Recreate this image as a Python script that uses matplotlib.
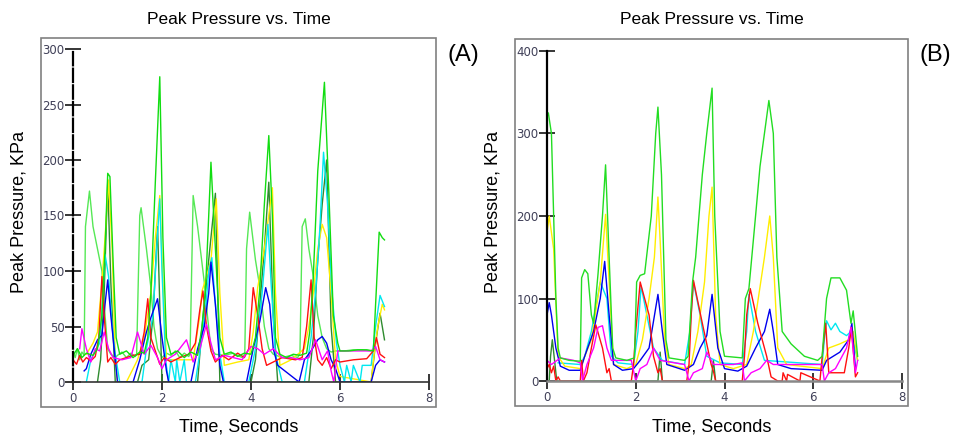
import matplotlib.pyplot as plt
from matplotlib.patches import Rectangle

# ---- panel A data (time s, peak pressure KPa) ----
a_green1_t = [0.0, 0.05, 0.1, 0.15, 0.2, 0.25, 0.28, 0.37, 0.45, 0.55, 0.65, 0.72, 0.78, 0.85, 0.95, 1.0,
              1.1, 1.2, 1.3, 1.4, 1.43, 1.5, 1.53, 1.65, 1.75, 1.82, 1.9, 2.0, 2.1, 2.2, 2.3, 2.4, 2.5, 2.6,
              2.63, 2.7, 2.8, 2.95, 3.02, 3.1, 3.2, 3.4, 3.6, 3.8, 3.86, 3.9, 3.97, 4.1, 4.2, 4.3, 4.4, 4.5,
              4.7, 4.9, 5.05, 5.1, 5.15, 5.22, 5.3, 5.4, 5.5, 5.6, 5.7, 5.8, 5.9, 6.1, 6.3, 6.5, 6.7]
a_green1_v = [28, 22, 30, 20, 27, 24, 140, 172, 140, 120, 100, 60, 30, 25, 22, 24,
              27, 22, 26, 23, 25, 150, 157, 120, 85, 50, 30, 22, 26, 24, 28, 22, 26, 23,
              25, 168, 140, 90, 60, 30, 25, 24, 26, 22, 25, 120, 153, 110, 85, 50, 30, 25,
              22, 24, 22, 26, 140, 147, 120, 95, 60, 40, 30, 27, 28, 28, 29, 29, 28]
a_green2_t = [0.0, 0.1, 0.2, 0.3, 0.45, 0.55, 0.65, 0.72, 0.78, 0.83, 0.9, 0.97, 1.05, 1.2, 1.35, 1.5,
              1.6, 1.68, 1.75, 1.85, 1.95, 2.02, 2.1, 2.2, 2.35, 2.5, 2.65, 2.8, 2.9, 2.98, 3.05, 3.1,
              3.2, 3.3, 3.4, 3.55, 3.7, 3.85, 4.0, 4.1, 4.2, 4.3, 4.4, 4.48, 4.55, 4.65, 4.8, 4.95,
              5.1, 5.25, 5.32, 5.4, 5.5, 5.65, 5.75, 5.85, 5.95, 6.0, 6.2, 6.4, 6.6, 6.75, 6.8, 6.88,
              6.95, 7.0]
a_green2_v = [24, 30, 22, 26, 24, 30, 60, 120, 188, 185, 110, 40, 25, 28, 22, 27,
              26, 40, 80, 180, 275, 130, 40, 25, 28, 22, 27, 24, 50, 85, 150, 198,
              120, 40, 25, 27, 23, 26, 25, 40, 85, 160, 222, 150, 40, 25, 22, 25,
              24, 26, 45, 95, 190, 270, 170, 60, 35, 28, 28, 29, 29, 28, 70, 135,
              130, 128]
a_dkgreen_t = [0.55, 0.62, 0.7, 0.78, 0.85, 0.95, 1.45, 1.55, 1.7, 1.8, 1.9, 2.0, 2.8, 2.9, 3.0, 3.1,
               3.2, 3.3, 4.0, 4.1, 4.2, 4.3, 4.4, 4.5, 4.6, 5.3, 5.4, 5.5, 5.6, 5.7, 5.8, 5.9,
               6.7, 6.8, 6.9, 7.0]
a_dkgreen_v = [0, 20, 80, 180, 90, 0, 0, 15, 20, 60, 140, 0, 0, 50, 90, 130,
               170, 0, 0, 20, 70, 120, 180, 60, 0, 0, 40, 110, 160, 200, 50, 0,
               0, 35, 62, 38]
a_yellow_t = [0.3, 0.45, 0.55, 0.65, 0.72, 0.8, 0.88, 0.95, 1.0, 1.2, 1.45, 1.6, 1.75, 1.85, 1.95, 2.02,
              2.1, 2.4, 2.7, 2.85, 2.9, 3.0, 3.1, 3.22, 3.3, 3.4, 3.7, 3.95, 4.05, 4.15, 4.3, 4.48,
              4.55, 4.65, 4.9, 5.2, 5.3, 5.4, 5.5, 5.6, 5.7, 5.8, 5.9, 6.0, 6.7, 6.78, 6.85, 6.95,
              7.0]
a_yellow_v = [25, 35, 45, 90, 130, 182, 120, 20, 0, 0, 20, 40, 80, 130, 168, 90,
              20, 20, 20, 60, 82, 95, 110, 165, 80, 15, 18, 20, 45, 85, 120, 175,
              80, 15, 20, 30, 50, 80, 120, 142, 130, 80, 20, 5, 0, 30, 50, 70,
              65]
a_cyan_t = [0.3, 0.4, 0.5, 0.6, 0.66, 0.72, 0.8, 0.88, 0.95, 1.05, 1.55, 1.65, 1.8, 1.88, 1.95, 2.0,
            2.08, 2.15, 2.2, 2.3, 2.33, 2.4, 2.5, 2.55, 2.75, 2.9, 3.0, 3.05, 3.12, 3.2, 3.3, 3.4,
            3.95, 4.1, 4.25, 4.38, 4.45, 4.55, 4.7, 5.2, 5.35, 5.45, 5.55, 5.63, 5.72, 5.82, 5.92,
            6.0, 6.1, 6.15, 6.25, 6.3, 6.45, 6.5, 6.7, 6.8, 6.9, 7.0]
a_cyan_v = [0, 20, 28, 35, 70, 115, 95, 50, 25, 0, 0, 30, 60, 120, 165, 100,
            20, 0, 20, 0, 20, 0, 20, 0, 0, 40, 75, 100, 112, 70, 25, 0,
            0, 30, 80, 142, 90, 25, 0, 0, 40, 80, 140, 207, 160, 80, 35,
            15, 0, 15, 0, 15, 0, 15, 15, 50, 78, 68]
a_blue_t = [0.25, 0.3, 0.4, 0.55, 0.65, 0.72, 0.78, 0.85, 0.95, 1.0, 1.35, 1.5, 1.65, 1.75, 1.9,
            2.0, 2.1, 2.15, 2.65, 2.8, 2.95, 3.05, 3.1, 3.2, 3.3, 3.38, 3.9, 4.05, 4.2, 4.33, 4.42,
            4.5, 4.6, 5.08, 5.2, 5.35, 5.5, 5.6, 5.7, 5.8, 5.9, 6.0, 6.7, 6.8, 6.9, 7.0]
a_blue_v = [10, 12, 25, 38, 42, 70, 92, 60, 20, 0, 0, 20, 45, 58, 75,
            40, 10, 0, 0, 30, 50, 80, 108, 70, 15, 0, 0, 30, 55, 85, 70,
            30, 15, 0, 20, 28, 38, 41, 35, 20, 12, 0, 0, 15, 20, 18]
a_red_t = [0.0, 0.08, 0.15, 0.22, 0.3, 0.4, 0.5, 0.58, 0.65, 0.7, 0.78, 0.85, 0.95, 1.05, 1.2, 1.35,
           1.5, 1.6, 1.68, 1.75, 1.85, 1.95, 2.05, 2.2, 2.4, 2.6, 2.75, 2.85, 2.92, 3.0, 3.1, 3.2,
           3.35, 3.5, 3.7, 3.85, 3.95, 4.05, 4.15, 4.25, 4.35, 4.5, 4.7, 5.0, 5.15, 5.25, 5.35, 5.42,
           5.5, 5.6, 5.7, 5.8, 5.9, 6.0, 6.3, 6.6, 6.75, 6.82, 6.9, 7.0]
a_red_v = [20, 16, 24, 18, 22, 19, 23, 40, 95, 60, 18, 22, 16, 20, 22, 24,
           25, 45, 75, 40, 28, 16, 22, 18, 22, 25, 35, 65, 82, 50, 28, 18,
           24, 20, 26, 22, 30, 85, 60, 30, 15, 18, 22, 20, 22, 50, 92, 40,
           20, 15, 22, 12, 20, 18, 20, 21, 28, 40, 25, 22]
a_mag_t = [0.15, 0.2, 0.3, 0.4, 0.5, 0.6, 0.7, 0.8, 0.9, 1.1, 1.3, 1.45, 1.6, 1.75, 1.9, 2.0,
           2.1, 2.3, 2.55, 2.7, 2.85, 3.0, 3.1, 3.2, 3.4, 3.6, 3.8, 4.0, 4.15, 4.3, 4.5, 4.7,
           4.9, 5.1, 5.3, 5.45, 5.6, 5.72, 5.8, 5.86, 5.95, 6.2, 6.5, 6.7, 6.8, 6.9, 7.0]
a_mag_v = [30, 48, 30, 18, 30, 28, 45, 30, 22, 20, 22, 45, 25, 33, 22, 12,
           20, 25, 38, 18, 30, 52, 35, 20, 24, 22, 20, 32, 30, 25, 30, 22,
           22, 20, 22, 38, 20, 28, 10, 0, 28, 28, 28, 28, 32, 20, 18]

# ---- panel B data ----
b_green_t = [0.0, 0.03, 0.1, 0.15, 0.2, 0.25, 0.3, 0.5, 0.75, 0.78, 0.85, 0.92, 1.0, 1.05, 1.15, 1.25,
             1.32, 1.4, 1.48, 1.55, 1.8, 1.97, 2.02, 2.1, 2.2, 2.35, 2.45, 2.5, 2.58, 2.68, 2.75, 3.1,
             3.18, 3.28, 3.35, 3.5, 3.6, 3.72, 3.78, 3.9, 4.0, 4.4, 4.47, 4.55, 4.7, 4.8, 5.0, 5.1,
             5.18, 5.3, 5.5, 5.8, 6.1, 6.2, 6.3, 6.4, 6.6, 6.75, 6.85, 6.9, 7.0]
b_green_v = [320, 325, 300, 200, 100, 40, 28, 25, 24, 125, 135, 130, 80, 70, 130, 200,
             262, 150, 40, 28, 25, 28, 120, 128, 130, 200, 300, 332, 250, 50, 28, 25,
             30, 120, 150, 250, 300, 355, 200, 60, 30, 28, 100, 112, 200, 260, 340, 300,
             150, 60, 45, 30, 25, 30, 100, 125, 125, 110, 70, 85, 30]
b_yellow_t = [0.0, 0.05, 0.15, 0.25, 0.4, 0.75, 0.85, 1.0, 1.2, 1.32, 1.42, 1.5, 1.8, 2.0, 2.15, 2.3,
              2.42, 2.5, 2.55, 2.65, 2.75, 3.1, 3.25, 3.4, 3.55, 3.65, 3.72, 3.8, 3.9, 4.2, 4.5, 4.65,
              4.9, 5.02, 5.1, 5.2, 5.4, 6.2, 6.35, 6.6, 6.8, 6.9, 7.0]
b_yellow_v = [180, 200, 160, 30, 18, 15, 30, 50, 120, 202, 100, 20, 15, 20, 50, 100,
              150, 223, 170, 50, 20, 15, 20, 60, 120, 200, 235, 80, 20, 15, 20, 60,
              150, 200, 150, 40, 20, 15, 40, 45, 50, 60, 25]
b_cyan_t = [0.25, 0.75, 0.85, 1.0, 1.2, 1.35, 1.45, 1.6, 1.95, 2.05, 2.12, 2.25, 2.4, 2.6, 3.1, 3.22,
            3.3, 3.45, 3.6, 3.9, 4.4, 4.5, 4.55, 4.7, 4.9, 6.2, 6.25, 6.3, 6.4, 6.5, 6.6, 6.75,
            6.85, 7.0]
b_cyan_v = [22, 20, 30, 60, 120, 100, 30, 22, 20, 60, 115, 80, 40, 25, 20, 60,
            120, 80, 30, 22, 20, 60, 105, 60, 25, 20, 50, 73, 62, 70, 60, 55,
            60, 25]
b_blue_t = [0.0, 0.05, 0.1, 0.2, 0.3, 0.5, 0.75, 0.85, 1.05, 1.2, 1.3, 1.4, 1.5, 1.7, 1.95, 2.1,
            2.3, 2.5, 2.6, 2.7, 3.1, 3.3, 3.45, 3.6, 3.72, 3.85, 4.0, 4.3, 4.5, 4.7, 4.9, 5.02,
            5.1, 5.2, 5.5, 6.2, 6.3, 6.6, 6.8, 6.87, 6.95]
b_blue_v = [80, 95, 80, 40, 18, 13, 13, 30, 60, 100, 145, 80, 20, 13, 15, 25,
            40, 105, 60, 20, 13, 20, 40, 55, 105, 40, 15, 12, 18, 40, 60, 87,
            60, 20, 15, 13, 25, 35, 50, 70, 15]
b_red_t = [0.0, 0.05, 0.1, 0.15, 0.2, 0.25, 0.3, 0.75, 0.78, 0.82, 0.9, 1.0, 1.1, 1.25, 1.35, 1.4,
           1.45, 1.9, 1.95, 2.0, 2.1, 2.3, 2.4, 2.5, 2.55, 2.6, 3.15, 3.2, 3.25, 3.3, 3.5, 3.7,
           3.75, 3.8, 4.4, 4.45, 4.5, 4.58, 4.75, 4.95, 5.05, 5.2, 5.3, 5.32, 5.4, 5.42, 5.7, 5.72,
           6.15, 6.22, 6.28, 6.35, 6.7, 6.8, 6.86, 6.95, 7.0]
b_red_v = [15, 20, 10, 18, 0, 5, 0, 0, 25, 0, 10, 40, 68, 40, 10, 15,
           0, 0, 20, 60, 120, 80, 30, 10, 15, 0, 0, 20, 80, 122, 70, 20,
           12, 0, 0, 30, 80, 112, 70, 30, 5, 0, 0, 10, 0, 8, 0, 10,
           0, 40, 70, 10, 10, 40, 65, 5, 10]
b_mag_t = [0.0, 0.1, 0.3, 0.6, 0.75, 0.8, 0.9, 1.05, 1.15, 1.25, 1.35, 1.45, 1.9, 2.0, 2.1, 2.25,
           2.4, 2.55, 3.1, 3.2, 3.3, 3.5, 3.6, 3.75, 4.2, 4.4, 4.45, 4.6, 4.8, 4.95, 5.1, 5.8,
           6.2, 6.25, 6.35, 6.5, 6.6, 6.75, 6.85, 6.95, 7.0]
b_mag_v = [25, 20, 28, 25, 22, 0, 20, 40, 65, 67, 40, 25, 25, 0, 15, 20,
           40, 25, 20, 0, 10, 15, 35, 20, 20, 22, 0, 10, 15, 25, 20, 20,
           20, 0, 10, 15, 25, 40, 65, 10, 25]
b_dkgreen_t = [0.05, 0.08, 0.12, 0.18, 0.22, 2.5, 2.55, 2.6, 3.7, 3.75, 3.8]
b_dkgreen_v = [0, 30, 50, 20, 0, 0, 35, 0, 0, 25, 0]

panels = [
    dict(tag='(A)', ymax=300, yticks=[0, 50, 100, 150, 200, 250, 300], dashed=True,
         series=[(a_green1_t, a_green1_v, '#55e855'), (a_dkgreen_t, a_dkgreen_v, '#2e8b2e'),
                 (a_yellow_t, a_yellow_v, '#ffee00'), (a_cyan_t, a_cyan_v, '#00e8f0'),
                 (a_blue_t, a_blue_v, '#0000ee'), (a_red_t, a_red_v, '#ff1010'),
                 (a_mag_t, a_mag_v, '#ff00ff'), (a_green2_t, a_green2_v, '#11dd11')],
         frame=(41, 38, 436, 407), data=(73, 49, 429, 382)),
    dict(tag='(B)', ymax=400, yticks=[0, 100, 200, 300, 400], dashed=False,
         series=[(b_dkgreen_t, b_dkgreen_v, '#2e8b2e'), (b_cyan_t, b_cyan_v, '#00e8f0'),
                 (b_yellow_t, b_yellow_v, '#ffee00'), (b_blue_t, b_blue_v, '#0000ee'),
                 (b_red_t, b_red_v, '#ff1010'), (b_mag_t, b_mag_v, '#ff00ff'),
                 (b_green_t, b_green_v, '#22dd22')],
         frame=(515, 39, 908, 406), data=(547, 51, 902, 381)),
]

W, H = 955, 437
fig = plt.figure(figsize=(W / 100, H / 100), dpi=100)
fig.patch.set_facecolor('white')

for p in panels:
    fx0, fy0, fx1, fy1 = p['frame']
    fig.patches.append(Rectangle((fx0 / W, 1 - fy1 / H), (fx1 - fx0) / W, (fy1 - fy0) / H,
                                 transform=fig.transFigure, fill=False, edgecolor='#808080', lw=1.2))
    dx0, dy0, dx1, dy1 = p['data']
    ax = fig.add_axes([dx0 / W, 1 - dy1 / H, (dx1 - dx0) / W, (dy1 - dy0) / H])
    ax.patch.set_alpha(0)
    for t, v, c in p['series']:
        ax.plot(t, v, color=c, lw=1.0)
    ax.set_xlim(0, 8)
    ax.set_ylim(0, p['ymax'])
    ax.set_xticks([0, 2, 4, 6, 8])
    ax.set_yticks(p['yticks'])
    ax.spines['top'].set_visible(False)
    ax.spines['right'].set_visible(False)
    ax.spines['left'].set_color('black')
    ax.spines['left'].set_linewidth(1.6)
    if p['dashed']:
        ax.spines['left'].set_linestyle((0, (6, 1.5)))
    ax.spines['bottom'].set_color('#333333' if p['dashed'] else '#888888')
    ax.spines['bottom'].set_linewidth(1.2 if p['dashed'] else 1.8)
    ax.tick_params(axis='both', direction='inout', length=11, width=1.1, color='black',
                   labelsize=8.5, labelcolor='#404058')
    ax.tick_params(axis='y', pad=0.5)
    ax.tick_params(axis='x', pad=2)
    cx = (fx0 + fx1) / 2 / W
    fig.text(cx, 1 - 20 / H, 'Peak Pressure vs. Time', ha='center', va='center',
             fontsize=12.5, family='Liberation Sans')
    fig.text(cx, 1 - 427 / H, 'Time, Seconds', ha='center', va='center',
             fontsize=13, family='Liberation Sans')
    fig.text((fx0 - 22) / W, 1 - 212 / H, 'Peak Pressure, KPa', ha='center', va='center',
             rotation=90, fontsize=13, family='Liberation Sans')
    fig.text((fx1 + 27) / W, 1 - 55 / H, p['tag'], ha='center', va='center',
             fontsize=17, family='Liberation Sans')

fig.savefig('out.png', dpi=100)
